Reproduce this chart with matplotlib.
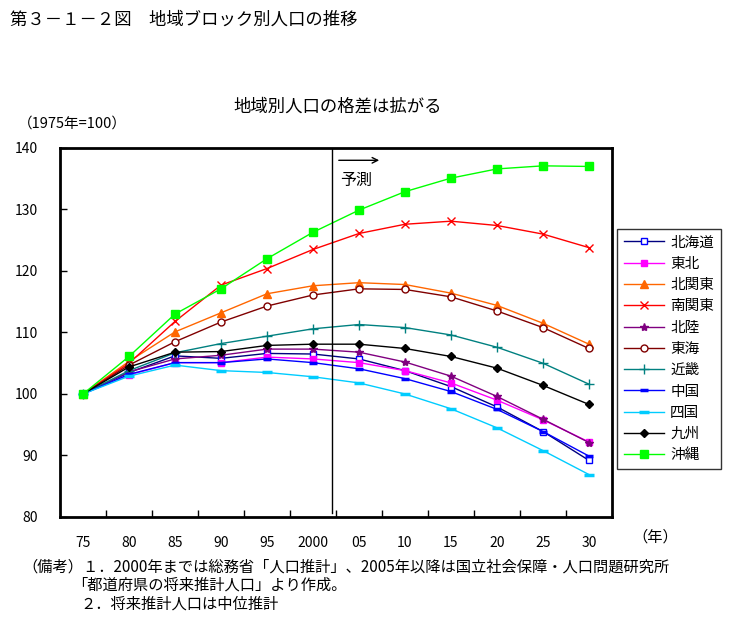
import numpy as np
import matplotlib.pyplot as plt

plt.rcParams['font.family'] = ['Noto Sans CJK JP', 'DejaVu Sans']

years = ["75", "80", "85", "90", "95", "2000", "05", "10", "15", "20", "25", "30"]
regions = ["北海道", "東北", "北関東", "南関東", "北陸", "東海", "近畿", "中国", "四国", "九州", "沖縄"]

hokkaido = [100, 103.5, 106.2, 105.8, 106.6, 106.5, 105.7, 103.8, 101.2, 97.9, 93.9, 89.2]
tohoku = [100, 103.1, 105.1, 105.1, 106.0, 105.7, 105.1, 103.8, 101.8, 99.0, 95.8, 92.2]
kita_kanto = [100, 105.3, 110.1, 113.2, 116.3, 117.6, 118.1, 117.8, 116.4, 114.4, 111.5, 108.1]
minami_kanto = [100, 105.0, 111.8, 117.7, 120.4, 123.5, 126.1, 127.6, 128.1, 127.4, 126.0, 123.8]
hokuriku = [100, 103.6, 105.7, 106.3, 107.3, 107.3, 106.8, 105.2, 102.9, 99.6, 95.9, 92.1]
tokai = [100, 104.7, 108.5, 111.7, 114.3, 116.1, 117.1, 117.0, 115.8, 113.5, 110.8, 107.4]
kinki = [100, 103.8, 106.7, 108.2, 109.4, 110.6, 111.3, 110.8, 109.6, 107.6, 105.0, 101.6]
chugoku = [100, 103.2, 105.1, 105.1, 105.7, 105.1, 104.1, 102.5, 100.4, 97.5, 93.9, 89.9]
shikoku = [100, 102.9, 104.7, 103.8, 103.5, 102.8, 101.8, 100.0, 97.6, 94.5, 90.8, 86.9]
kyushu = [100, 104.4, 106.8, 106.9, 107.9, 108.1, 108.1, 107.4, 106.1, 104.2, 101.4, 98.3]
okinawa = [100, 106.1, 113.0, 117.1, 122.0, 126.3, 129.9, 132.9, 135.1, 136.6, 137.1, 137.0]

series = [hokkaido, tohoku, kita_kanto, minami_kanto, hokuriku, tokai,
          kinki, chugoku, shikoku, kyushu, okinawa]

# line colour, marker, marker face, marker edge, marker size
styles = [
    ("#000080", "s", "white", "#0000FF", 5),
    ("#FF00FF", "s", "#FF00FF", "#FF00FF", 5),
    ("#FF6600", "^", "#FF6600", "#FF6600", 6),
    ("#FF0000", "x", "#FF0000", "#FF0000", 6),
    ("#800080", "*", "#800080", "#800080", 6),
    ("#800000", "o", "white", "#800000", 5),
    ("#008080", "+", "#008080", "#008080", 7),
    ("#0000FF", "_", "#0000FF", "#0000FF", 6),
    ("#00CCFF", "_", "#00CCFF", "#00CCFF", 7),
    ("#000000", "D", "#000000", "#000000", 4.5),
    ("#00FF00", "s", "#00FF00", "#00FF00", 5.5),
]

fig = plt.figure(figsize=(7.54, 6.3), dpi=100)
ax = fig.add_axes([60 / 754, 1 - 517 / 630, 552 / 754, 369 / 630])

x = np.arange(len(years))
for name, vals, (lc, mk, mfc, mec, ms) in zip(regions, series, styles):
    ax.plot(x, vals, color=lc, lw=1, marker=mk, markersize=ms,
            markerfacecolor=mfc, markeredgecolor=mec,
            markeredgewidth=2.5 if mk == "_" else 1, label=name)

ax.set_xlim(-0.5, len(years) - 0.5)
ax.set_ylim(80, 140)
ax.set_yticks(np.arange(80, 141, 10))
ax.set_xticks(x)
ax.set_xticklabels(years)
ax.set_xticks(np.arange(0.5, len(years) - 1, 1), minor=True)
ax.tick_params(axis="x", which="major", length=0, pad=14, labelsize=10)
ax.tick_params(axis="x", which="minor", direction="in", length=5, width=1)
ax.tick_params(axis="y", direction="in", length=5, width=1, pad=16, labelsize=10)
for sp in ax.spines.values():
    sp.set_linewidth(2)

# forecast boundary and arrow
ax.axvline(5.42, ymin=0.01, ymax=1, color="black", lw=1)
ax.annotate("", xy=(6.5, 138.0), xytext=(5.5, 138.0),
            arrowprops=dict(arrowstyle="->", color="black", lw=1))
ax.text(5.6, 134.8, "予測", fontsize=11.5, ha="left", va="center")

leg = ax.legend(loc="upper left", bbox_to_anchor=(617 / 754, 1 - 229 / 630),
                bbox_transform=fig.transFigure, fontsize=10.5, frameon=True,
                fancybox=False, edgecolor="black", handlelength=2.8,
                labelspacing=0.5, borderpad=0.45, handletextpad=0.4,
                borderaxespad=0)
leg.get_frame().set_linewidth(1)

fig.text(10 / 754, 1 - 20 / 630, "第３－１－２図　地域ブロック別人口の推移",
         fontsize=12.5, ha="left", va="center")
fig.text(338 / 754, 1 - 107 / 630, "地域別人口の格差は拡がる",
         fontsize=12.5, ha="center", va="center")
fig.text(18 / 754, 1 - 124 / 630, "（1975年=100）",
         fontsize=10.5, ha="left", va="center")
fig.text(632 / 754, 1 - 537 / 630, "（年）",
         fontsize=11, ha="left", va="center")

notes = [
    (22, 567, "（備考）１．2000年までは総務省「人口推計」、2005年以降は国立社会保障・人口問題研究所"),
    (72, 585, "「都道府県の将来推計人口」より作成。"),
    (80, 604, "２．将来推計人口は中位推計"),
]
for nx, ny, t in notes:
    fig.text(nx / 754, 1 - ny / 630, t, fontsize=11, ha="left", va="center")

fig.savefig("out.png", dpi=100)
